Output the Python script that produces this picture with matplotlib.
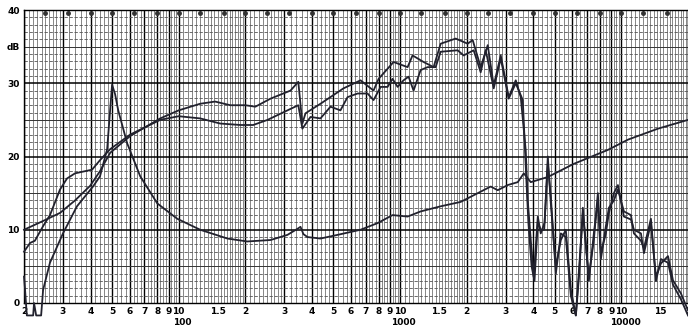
"""
Loudspeaker chart: two SPL curves and impedance, 20 Hz - 20 kHz,
drawn on dense log paper like the scanned original.
"""
import matplotlib.pyplot as plt
import numpy as np

# ---- data ----
# SPL curve 1 (starts near 10 dB)
spl1_freq = [20, 24.4, 29.1, 34.0, 39.8, 44.1, 49.0, 60.4, 82.5, 100, 125, 146,
             171, 200, 222, 260, 320, 347, 362, 374, 437, 555, 663, 759, 800,
             935, 1082, 1139, 1278, 1418, 1526, 1784, 2021, 2129, 2314, 2490,
             2650, 2851, 3097, 3333, 3511, 3698, 3776, 3896, 4020, 4192, 4323,
             4500, 4652, 4800, 5056, 5327, 5610, 5911, 6228, 6450, 6698, 7129,
             7510, 7830, 8080, 8511, 8782, 9252, 9646, 10268, 11046, 11396,
             12258, 12648, 13600, 14328, 15094, 16240, 17106, 18586, 20000]
spl1_db = [10, 11.2, 12.3, 14, 16, 18, 20.5, 22.8, 25.2, 26.3, 27.2, 27.5,
           27, 27, 26.8, 27.9, 29, 30.2, 24.5, 25.9, 27.2, 29.3, 30.4, 29, 30.6,
           32.9, 32.2, 33.8, 32.9, 32.2, 35.4, 36.1, 35.4, 35.9, 32.2, 35.2,
           29.7, 33.8, 28.1, 30.4, 28.1, 20.8, 14, 8.6, 3.6, 11.8, 9.5,
           11, 20, 13.6, 5, 8.6, 10, 1.8, -1.7, 5, 12.3, 3.6,
           8.6, 15, 6.8, 9.5, 12.3, 15, 16.1, 11.8, 11.4, 10,
           9.5, 6.8, 10.9, 3.6, 5.4, 6.4, 3.1, 1.3, -1]

# SPL curve 2 (starts near 7 dB)
spl2_freq = [20, 21.3, 22.4, 24.4, 26.2, 29.1, 31.3, 34.0, 37.8, 40.6, 44.1,
             49.0, 60.4, 82.5, 100, 125, 154, 190, 217, 252, 310, 347, 362,
             394, 437, 485, 538, 579, 643, 713, 759, 817, 878, 925, 975, 1037,
             1093, 1151, 1239, 1332, 1448, 1526, 1821, 1938, 2151, 2314, 2438,
             2650, 2851, 3097, 3333, 3586, 3698, 3800, 3930, 4050, 4192, 4323,
             4480, 4652, 4800, 5056, 5327, 5610, 5911, 6228, 6450, 6698, 7129,
             7510, 7830, 8080, 8511, 8782, 9252, 9646, 10268, 11046, 11396,
             12258, 12648, 13600, 14328, 15094, 16240, 17106, 18586, 20000]
spl2_db = [7, 8.2, 8.5, 10.5, 12, 15.5, 17, 17.7, 18, 18.2, 19.5,
           21, 23, 25, 25.5, 25.2, 24.5, 24.3, 24.3, 25, 26.3, 27, 23.8,
           25.4, 25.2, 26.8, 26.3, 28.1, 28.6, 28.6, 27.7, 29.5, 29.5, 30.6,
           29.5, 30.4, 30.9, 29, 31.8, 32.2, 32.2, 34.3, 34.5, 33.8, 34.5,
           31.5, 34.5, 29.3, 33.4, 27.9, 30, 27.7, 18.6, 11, 5, 3, 11, 10,
           10, 19, 14.5, 4, 9.5, 9, 1, -1.7, 4, 13, 3,
           9.5, 14, 6, 10.5, 13, 14, 15.5, 12.5, 12, 9.5,
           8.5, 7.5, 11.5, 3, 6, 5.5, 2.5, 0.5, -1.7]

# impedance curve (peak at 50 Hz)
imp_freq = [20, 20.2, 20.6, 22.0, 22.2, 22.7, 23.9, 24.4, 26.2, 30.0, 34.7,
            41.0, 44.1, 47.5, 50.0, 51.6, 53.3, 58.5, 67.0, 80.0, 98.5, 125,
            166, 204, 260, 310, 347, 355, 366, 382, 437, 522, 663, 791, 925,
            1082, 1239, 1526, 1879, 2568, 2763, 3066, 3403, 3623, 3896, 4652,
            6099, 8690, 10706, 14630, 20000]
imp_db = [3.6, 2, -1.7, -1.7, 0, -1.7, -1.7, 1.8, 5.5, 9.5, 13.2,
          15.9, 17.3, 21, 29.8, 28.5, 26.3, 21.8, 17.3, 13.6, 11.5, 10,
          8.8, 8.4, 8.6, 9.3, 10.2, 10.4, 9.4, 9, 8.8, 9.3, 10, 10.9, 12,
          11.8, 12.5, 13.2, 13.8, 15.9, 15.4, 16.1, 16.5, 17.7, 16.5, 17.2,
          19, 20.9, 22.3, 23.8, 25]

# third-octave marks along the top
third_octaves = [25, 31.5, 40, 50, 63, 80, 100, 125, 160, 200, 250, 315, 400,
                 500, 630, 800, 1000, 1250, 1600, 2000, 2500, 3150, 4000, 5000,
                 6300, 8000, 10000, 12500, 16000]

# tick labels under the axis
tick_freq = [20, 30, 40, 50, 60, 70, 80, 90, 100, 150, 200, 300, 400, 500, 600,
             700, 800, 900, 1000, 1500, 2000, 3000, 4000, 5000, 6000, 7000,
             8000, 9000, 10000, 15000, 20000]
tick_text = ['2', '3', '4', '5', '6', '7', '8', '9', '10', '1.5', '2', '3',
             '4', '5', '6', '7', '8', '9', '10', '1.5', '2', '3', '4', '5',
             '6', '7', '8', '9', '10', '15', '2']
decade_freq = [100, 1000, 10000]
decade_text = ['100', '1000', '10000']

ink = '#22222e'

fig = plt.figure(figsize=(6.88, 3.30), dpi=100)
ax = fig.add_axes([24 / 688, 27 / 330, 664 / 688, 293 / 330])
ax.set_xscale('log')
ax.set_xlim(20, 20000)
ax.set_ylim(0, 40)

# dense log paper grid
minor_steps = list(np.arange(1.05, 2.0, 0.05)) + list(np.arange(2.1, 3.0, 0.1)) \
    + list(np.arange(3.2, 5.0, 0.2)) + list(np.arange(5.25, 10.0, 0.25))
for dec in [10, 100, 1000, 10000]:
    for m in minor_steps:
        f = dec * m
        if 20 < f < 20000 and abs(m - round(m)) > 1e-6:
            ax.axvline(f, color='#444444', lw=0.45, zorder=1)
    for m in range(1, 10):
        f = dec * m
        if 20 <= f <= 20000:
            ax.axvline(f, color='black', lw=1.0, zorder=1)

for db in range(1, 40):
    if db % 10 == 0:
        ax.axhline(db, color='black', lw=1.1, zorder=1)
    elif db % 5 == 0:
        ax.axhline(db, color='#333333', lw=0.7, zorder=1)
    else:
        ax.axhline(db, color='#555555', lw=0.6, ls=(0, (4, 2)), zorder=1)

for s in ax.spines.values():
    s.set_color('black')
    s.set_linewidth(1.0)

# the curves (plotter pen goes slightly below the frame)
ax.plot(spl1_freq, spl1_db, color=ink, lw=1.3, zorder=3, clip_on=False)
ax.plot(spl2_freq, spl2_db, color=ink, lw=1.3, zorder=3, clip_on=False)
ax.plot(imp_freq, imp_db, color=ink, lw=1.3, zorder=3, clip_on=False)

ax.plot(third_octaves, [39.6] * len(third_octaves), 'o', color='#333333',
        ms=2.5, zorder=2)

ax.set_xticks(tick_freq)
ax.set_xticklabels(tick_text, fontsize=6.5, fontweight='bold')
ax.xaxis.set_minor_locator(plt.NullLocator())
ax.set_yticks([0, 10, 20, 30, 35, 40])
ax.set_yticklabels(['0', '10', '20', '30', 'dB', '40'], fontsize=6.5,
                   fontweight='bold')
ax.tick_params(length=0, pad=3)
ax.tick_params(axis='x', pad=3)

# decade names on a second row
for f, t in zip(decade_freq, decade_text):
    ax.text(f * 1.04, -0.066, t, transform=ax.get_xaxis_transform(),
            ha='center', va='center', fontsize=6.5, fontweight='bold')

plt.savefig('out.png', dpi=100)
